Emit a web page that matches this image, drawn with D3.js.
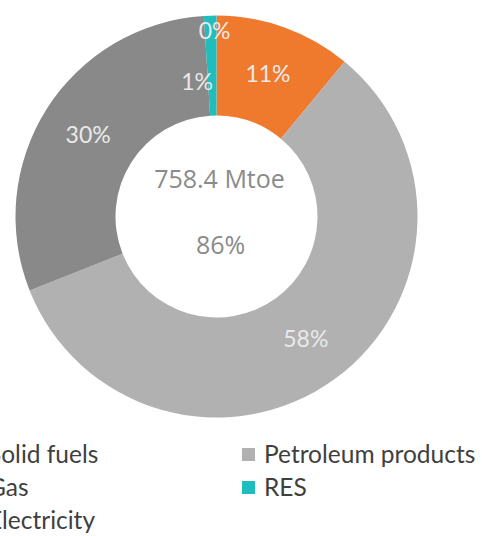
<!DOCTYPE html>
<html><head><meta charset="utf-8">
<script src="https://cdn.jsdelivr.net/npm/d3@7"></script>
<style>html,body{margin:0;padding:0;background:#fff;overflow:hidden}</style>
</head><body>
<svg id="c" width="482" height="536"></svg>
<script>
// Data (clockwise from top)
const categories = ["Solid fuels", "Gas", "Petroleum products", "Electricity", "RES"];
const shares = [0, 11, 58, 30, 1];
const sliceLabels = ["0%", "11%", "58%", "30%", "1%"];
const colors = ["#6f6f6f", "#ef7a2e", "#b1b1b1", "#898989", "#1fbdbd"];
const centerTitle = "758.4 Mtoe";
const centerValue = "86%";
const legendOrder = ["Solid fuels", "Petroleum products", "Gas", "RES", "Electricity"];

const svg = d3.select("#c");
const cx = 216.5, cy = 216.5, rOuter = 201, rInner = 101;
const g = svg.append("g").attr("transform", `translate(${cx},${cy})`);

const pie = d3.pie().sort(null).value(d => d.v);
const data = categories.map((c,i) => ({c: c, v: shares[i], lab: sliceLabels[i], col: colors[i]}));
const arcs = pie(data);
const arc = d3.arc().innerRadius(rInner).outerRadius(rOuter);

g.selectAll("path.s").data(arcs).enter().append("path")
  .attr("class","s").attr("d", arc).attr("fill", d => d.data.col);

const lg = svg.append("g").attr("transform", `translate(${cx},${cy})`);
arcs.forEach(function(d) {
  const mid = (d.startAngle + d.endAngle) / 2;
  let r = 152, a = mid;
  if (d.data.c === "Solid fuels") { r = 186; a = -0.01; }
  if (d.data.c === "RES") { r = 136; a = -8.2 * Math.PI / 180; }
  const x = r * Math.sin(a), y = -r * Math.cos(a);
  lg.append("text")
    .attr("x", x).attr("y", y + 8)
    .attr("text-anchor", "middle")
    .attr("font-family", "Lato, 'Open Sans', sans-serif")
    .attr("font-size", 23)
    .attr("fill", "#e9e9e9")
    .text(d.data.lab);
});

g.append("text").attr("x", 3).attr("y", -29).attr("text-anchor","middle")
  .attr("font-family","'Open Sans', sans-serif").attr("font-size", 25)
  .attr("fill","#8a8a8a").text(centerTitle);
g.append("text").attr("x", 4).attr("y", 37).attr("text-anchor","middle")
  .attr("font-family","'Open Sans', sans-serif").attr("font-size", 25)
  .attr("fill","#8a8a8a").text(centerValue);

// legend
const colX = [-34, 242], rowY = [455, 488, 521];
const leg = svg.append("g");
legendOrder.forEach((name, i) => {
  const col = i % 2, row = Math.floor(i / 2);
  const idx = categories.indexOf(name);
  const x = colX[col], y = rowY[row];
  leg.append("rect").attr("x", x).attr("y", y - 7).attr("width", 13).attr("height", 13)
    .attr("fill", colors[idx]);
  leg.append("text").attr("x", x + 22).attr("y", y + 8)
    .attr("font-family","Lato, 'Open Sans', sans-serif").attr("font-size", 24.5)
    .attr("fill","#3f3f3f").text(name);
});
</script>
</body></html>
